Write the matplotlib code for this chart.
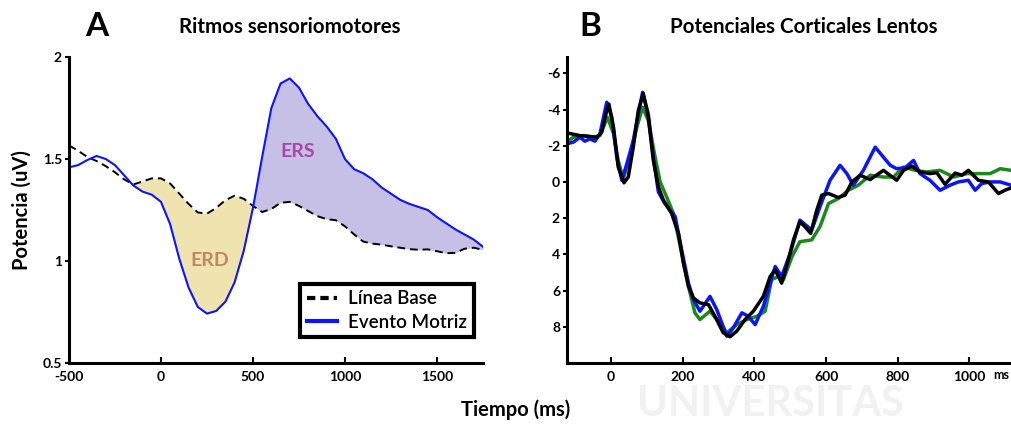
import numpy as np
import matplotlib
matplotlib.use("Agg")
import matplotlib.pyplot as plt
from matplotlib.lines import Line2D

plt.rcParams['font.family'] = ['Lato', 'DejaVu Sans']
plt.rcParams['axes.unicode_minus'] = False

# panel A: ritmos sensoriomotores (ms, uV)
t_a = np.arange(-500, 1751, 50)
evento = [1.459, 1.47, 1.495, 1.515, 1.50, 1.47, 1.42, 1.37, 1.34, 1.325,
          1.29, 1.18, 1.01, 0.87, 0.775, 0.742, 0.755, 0.80, 0.895, 1.05,
          1.26, 1.51, 1.75, 1.87, 1.895, 1.85, 1.77, 1.71, 1.66, 1.60,
          1.50, 1.45, 1.43, 1.40, 1.36, 1.33, 1.30, 1.28, 1.265, 1.25,
          1.215, 1.185, 1.155, 1.13, 1.105, 1.07]
base = [1.567, 1.54, 1.51, 1.49, 1.465, 1.435, 1.40, 1.375, 1.39, 1.405,
        1.405, 1.38, 1.33, 1.28, 1.238, 1.232, 1.26, 1.298, 1.32, 1.305,
        1.27, 1.24, 1.255, 1.285, 1.29, 1.27, 1.245, 1.22, 1.205, 1.2,
        1.17, 1.13, 1.095, 1.085, 1.08, 1.072, 1.065, 1.058, 1.055, 1.057,
        1.048, 1.038, 1.04, 1.06, 1.065, 1.055]

# panel B: potenciales corticales lentos (ms, uV, eje invertido)
t_negro = [-124, -87, -59, -40, -26, -12, -6, 7, 20, 36, 48, 62, 76, 90, 104, 118,
           132, 146, 169, 188, 202, 216, 230, 248, 272, 290, 313, 332, 351, 374,
           397, 425, 444, 458, 476, 490, 509, 527, 541, 557, 574, 588, 607, 634,
           653, 672, 695, 723, 760, 797, 816, 839, 862, 890, 909, 932, 960, 979,
           997, 1025, 1053, 1081, 1099, 1116]
v_negro = [-2.71, -2.56, -2.51, -2.47, -2.75, -3.94, -4.3, -3.0, -0.82, 0.05, -0.27,
           -1.92, -3.94, -4.89, -3.57, -1.19, 0.27, 1.0, 1.74, 2.84, 4.49, 5.77,
           6.41, 6.68, 6.78, 7.42, 8.33, 8.55, 8.24, 7.60, 7.14, 6.32, 5.22, 4.85,
           5.59, 4.67, 3.2, 2.2, 2.47, 2.84, 1.56, 0.73, 0.64, 0.86, 0.73, 0.0,
           -0.37, -0.13, -0.64, -0.09, -0.64, -0.88, -0.55, -0.46, -0.51, 0.13,
           -0.49, -0.37, -0.64, -0.09, 0.0, 0.64, 0.46, 0.33]

t_azul = [-124, -105, -87, -73, -59, -45, -31, -12, 2, 16, 30, 44, 62, 76, 88, 104,
          118, 132, 150, 179, 197, 216, 230, 248, 276, 295, 323, 341, 365, 383,
          402, 425, 444, 458, 476, 500, 527, 560, 583, 611, 639, 658, 676, 704,
          737, 760, 779, 797, 821, 844, 862, 890, 918, 946, 969, 997, 1016, 1034,
          1058, 1086, 1116]
v_azul = [-2.1, -2.2, -2.47, -2.25, -2.38, -2.25, -2.66, -4.40, -3.57, -1.37, -0.09,
          -1.0, -2.29, -3.75, -4.95, -3.75, -1.37, 0.55, 1.19, 1.92, 3.75, 5.59,
          6.5, 7.14, 6.32, 7.05, 8.52, 8.06, 7.23, 7.42, 7.88, 6.87, 5.59, 4.67,
          5.22, 3.94, 2.11, 2.66, 1.37, -0.09, -0.92, -0.46, 0.18, -0.64, -1.92,
          -1.37, -0.92, -0.73, -0.79, -1.19, -0.46, -0.09, 0.46, 0.18, 0.0, -0.09,
          0.46, 0.09, 0.0, 0.0, 0.18]

t_verde = [-124, -105, -77, -49, -31, -10, 7, 20, 34, 53, 72, 88, 104, 123, 137, 155,
           174, 197, 216, 234, 248, 276, 299, 323, 351, 379, 407, 430, 448, 467,
           481, 505, 527, 560, 583, 607, 634, 662, 690, 723, 760, 788, 816, 849,
           881, 918, 956, 993, 1030, 1058, 1086, 1116]
v_verde = [-2.2, -2.47, -2.56, -2.47, -2.56, -3.57, -2.66, -1.19, -0.18, -1.37, -3.02,
           -4.12, -3.39, -1.37, 0.0, 0.82, 1.74, 3.94, 5.77, 7.23, 7.6, 7.14, 7.69,
           8.33, 7.88, 7.6, 7.42, 7.14, 5.4, 5.22, 5.4, 4.12, 3.3, 3.2, 2.47, 1.19,
           0.92, 0.46, 0.18, -0.37, -0.27, -0.27, -0.82, -0.64, -0.55, -0.64, -0.27,
           -0.46, -0.46, -0.46, -0.73, -0.64]

ticks_a_x = [-500, 0, 500, 1000, 1500]
ticks_a_y = [0.5, 1, 1.5, 2]
ticks_b_x = [0, 200, 400, 600, 800, 1000]
ticks_b_y = [-6, -4, -2, 0, 2, 4, 6, 8]

fig = plt.figure(figsize=(10.11, 4.25), dpi=100)

# marca de agua tenue
fig.text(770 / 1011, 1 - 404 / 425, "UNIVERSITAS", fontsize=30, fontweight='bold',
         color='#f1f1f1', ha='center', va='center', zorder=0)

axA = fig.add_axes([0.0682, 0.1459, 0.4095, 0.72])
axB = fig.add_axes([0.5608, 0.1459, 0.4392, 0.72])
for ax in (axA, axB):
    ax.patch.set_alpha(0)
    for s in ('top', 'right'):
        ax.spines[s].set_visible(False)
    for s in ('left', 'bottom'):
        ax.spines[s].set_linewidth(2.2)
    ax.tick_params(axis='x', direction='in', length=4, width=1.5, pad=6, labelsize=10)
    ax.tick_params(axis='y', direction='out', length=3, width=1.5, pad=2, labelsize=10)

# --- A ---
ev = np.array(evento)
bs = np.array(base)
axA.fill_between(t_a, ev, bs, where=(ev <= bs) & (t_a >= -150) & (t_a <= 550),
                 interpolate=True, color='#efe3b0', lw=0)
axA.fill_between(t_a, ev, bs, where=(ev >= bs) & (t_a >= 450),
                 interpolate=True, color='#c6bfe6', lw=0)
axA.plot(t_a, base, color='black', lw=1.4, ls=(0, (4, 2.5)))
axA.plot(t_a, evento, color='#0a14ff', lw=1.5, solid_joinstyle='round')
axA.set_xlim(-500, 1750)
axA.set_ylim(0.5, 2.0)
axA.set_xticks(ticks_a_x)
axA.set_xticklabels([str(v) for v in ticks_a_x], fontweight='bold')
axA.set_yticks(ticks_a_y)
axA.set_yticklabels(['0.5', '1', '1.5', '2'], fontweight='bold')
axA.text(266, 1.0, "ERD", color='#c08860', fontsize=14, fontweight='bold',
         ha='center', va='center')
axA.text(745, 1.535, "ERS", color='#a44aa4', fontsize=14, fontweight='bold',
         ha='center', va='center')

handles = [Line2D([], [], color='black', lw=3, ls=(0, (2, 1.2))),
           Line2D([], [], color='#0a14ff', lw=3)]
leg = axA.legend(handles, ['Línea Base', 'Evento Motriz'], loc='center',
                 bbox_to_anchor=(0.768, 0.172), prop={'size': 13.5, 'weight': 'semibold'},
                 fancybox=False, framealpha=1, edgecolor='black', handlelength=1.6,
                 handletextpad=0.6, borderpad=0.35, labelspacing=0.35)
leg.get_frame().set_linewidth(3)

# --- B ---
axB.plot(t_verde, v_verde, color='#1a8a1a', lw=2.5, solid_joinstyle='round')
axB.plot(t_azul, v_azul, color='#0a14ff', lw=2.5, solid_joinstyle='round')
axB.plot(t_negro, v_negro, color='black', lw=2.5, solid_joinstyle='round')
axB.set_xlim(-123, 1116)
axB.set_ylim(10, -6.9)
axB.set_xticks(ticks_b_x)
axB.set_xticklabels([str(v) for v in ticks_b_x], fontweight='bold')
axB.set_yticks(ticks_b_y)
axB.set_yticklabels([str(v) for v in ticks_b_y], fontweight='bold')
axB.text(1088, -0.04, "ms", transform=axB.get_xaxis_transform(), fontsize=9,
         fontweight='bold', ha='center', va='center')

# titulos
fig.text(97 / 1011, 1 - 27 / 425, "A", fontsize=24, fontweight='bold', ha='center', va='center')
fig.text(290 / 1011, 1 - 27 / 425, "Ritmos sensoriomotores", fontsize=14.8,
         fontweight='bold', ha='center', va='center')
fig.text(590 / 1011, 1 - 27 / 425, "B", fontsize=24, fontweight='bold', ha='center', va='center')
fig.text(804 / 1011, 1 - 27 / 425, "Potenciales Corticales Lentos", fontsize=14.8,
         fontweight='bold', ha='center', va='center')
fig.text(22 / 1011, 1 - 210 / 425, "Potencia (uV)", fontsize=14.5, fontweight='bold',
         rotation=90, ha='center', va='center')
fig.text(516 / 1011, 1 - 410 / 425, "Tiempo (ms)", fontsize=14.5, fontweight='bold',
         ha='center', va='center')

fig.savefig("out.png", dpi=100)
